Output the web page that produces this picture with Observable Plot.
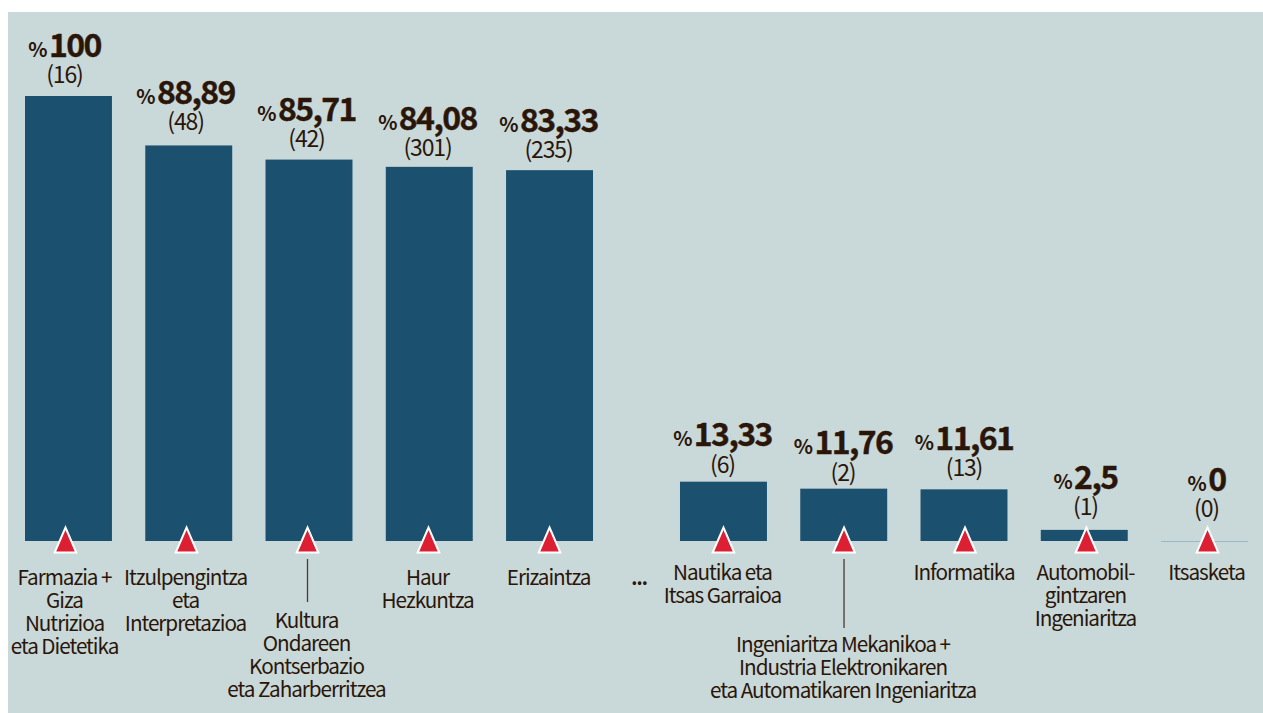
<!DOCTYPE html>
<html>
<head>
<meta charset="utf-8">
<script src="https://cdn.jsdelivr.net/npm/d3@7"></script>
<script src="https://cdn.jsdelivr.net/npm/@observablehq/plot@0.6"></script>
<style>
html,body{margin:0;padding:0;background:#fff;overflow:hidden}
#chart{position:absolute;left:8px;top:12px}
svg{display:block}
svg text{letter-spacing:-0.05em}
</style>
</head>
<body>
<div id="chart"></div>
<script>
const categories = [
  "Farmazia +\nGiza\nNutrizioa\neta Dietetika",
  "Itzulpengintza\neta\nInterpretazioa",
  "Kultura\nOndareen\nKontserbazio\neta Zaharberritzea",
  "Haur\nHezkuntza",
  "Erizaintza",
  "Nautika eta\nItsas Garraioa",
  "Ingeniaritza Mekanikoa +\nIndustria Elektronikaren\neta Automatikaren Ingeniaritza",
  "Informatika",
  "Automobil-\ngintzaren\nIngeniaritza",
  "Itsasketa"
];
const percents = [100, 88.89, 85.71, 84.08, 83.33, 13.33, 11.76, 11.61, 2.5, 0];
const percentLabels = ["100", "88,89", "85,71", "84,08", "83,33", "13,33", "11,76", "11,61", "2,5", "0"];
const counts = [16, 48, 42, 301, 235, 6, 2, 13, 1, 0];
const groups = ["top","top","top","top","top","bottom","bottom","bottom","bottom","bottom"];
const ranks = [0,1,2,3,4,0,1,2,3,4];

const rows = categories.map((category, i) => ({
  category, value: percents[i], label: percentLabels[i], count: counts[i], group: groups[i], rank: ranks[i]
}));

// layout nudges in pixels, kept apart from the data
const countLift = [21, 23, 20, 19, 20, 17, 16, 21, 23, 32];
const nameDrop = [27, 27, 70, 27, 27, 22, 94, 22, 22, 22];
const labelShift = [-3.5, -2.7, -2, -1.3, -0.5, -0.5, -0.2, 0.5, 1.7, 2.5];
const leaders = {2: [18, 61], 6: [18, 87]};
const pxPerUnit = 4.45;

const ink = "#2a1608";
const font = '"Noto Sans CJK KR","Noto Sans",sans-serif';
const marker = {
  draw(ctx, size) {
    const r = Math.sqrt(size / Math.PI);
    ctx.moveTo(0, -r);
    ctx.lineTo(r * 0.864, r);
    ctx.lineTo(-r * 0.864, r);
    ctx.closePath();
  }
};
const base = {x: "rank", fx: "group"};

const plot = Plot.plot({
  width: 1255,
  height: 701,
  marginTop: 84,
  marginBottom: 172,
  marginLeft: 17,
  marginRight: 15,
  style: {background: "#c9d8d9", fontFamily: font, color: ink},
  x: {domain: [0,1,2,3,4], paddingInner: 0.277, paddingOuter: 0, round: false, axis: null},
  fx: {domain: ["top","bottom"], paddingInner: 0.1328, paddingOuter: 0, round: false, axis: null},
  y: {domain: [0,100], axis: null},
  marks: [
    Plot.barY(rows, {...base, y: "value", fill: "#1b506e"}),
    Plot.tickY(rows.filter(d => d.value === 0), {...base, y: "value", stroke: "#9bb9c4", strokeWidth: 1}),
    ...Object.entries(leaders).map(([i, [a, b]]) =>
      Plot.ruleX([rows[i]], {...base, dx: labelShift[i], y1: -a / pxPerUnit, y2: -b / pxPerUnit, stroke: "#4a3a30", strokeWidth: 1.3})),
    ...rows.map((d, i) => Plot.dot([d], {...base, dx: labelShift[i], y: 0, dy: -1.5, r: 12.5, symbol: marker, fill: "#dc1f33", stroke: "#fff", strokeWidth: 2, strokeLinejoin: "miter", strokeMiterlimit: 10})),
    ...rows.map((d, i) => Plot.text([d], {...base, dx: labelShift[i] - 1, y: "value", text: e => "(" + e.count + ")", dy: -countLift[i], fontSize: 23, fill: ink, fontWeight: 400})),
    ...rows.map((d, i) => Plot.text([d], {...base, dx: labelShift[i] - 1, y: "value", text: e => "%\u2009" + e.label, dy: -countLift[i] - 29, fontSize: 32, fontWeight: 700, fill: ink, stroke: ink, strokeWidth: 0.4, className: "pct"})),
    ...rows.map((d, i) => Plot.text([d], {...base, dx: labelShift[i] - 1, y: 0, text: "category", dy: nameDrop[i], lineAnchor: "top", lineHeight: 1.11, fontSize: 20.7, fill: ink})),
    Plot.text([rows[4]], {...base, y: 0, text: () => "...", dx: 89, dy: 37, fontSize: 19, fontWeight: 700, fill: ink})
  ]
});

d3.select(plot).selectAll(".pct text").each(function () {
  const parts = this.textContent.split("\u2009");
  if (parts.length !== 2) return;
  const s = d3.select(this);
  s.text(null);
  s.append("tspan").attr("font-size", 20).attr("stroke-width", 0).text("%");
  s.append("tspan").attr("dx", 3).text(parts[1]);
});
document.getElementById("chart").append(plot);
</script>
</body>
</html>
